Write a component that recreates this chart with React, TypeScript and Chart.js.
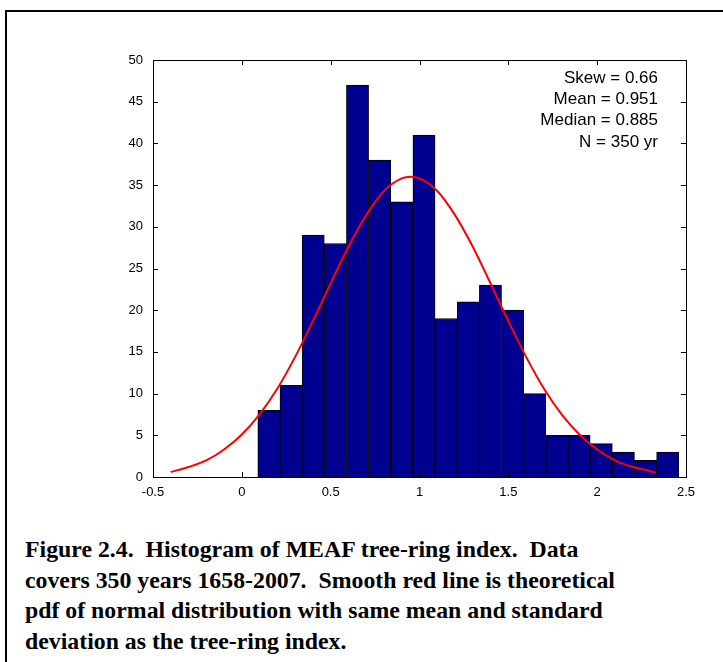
import React, { useEffect, useRef } from 'react';
import { Chart, registerables } from 'chart.js';

Chart.register(...registerables);

const binWidth = 0.1247;
const binStart = 0.09;
const counts = [8, 11, 29, 28, 47, 38, 33, 41, 19, 21, 23, 20, 10, 5, 5, 4, 3, 2, 3];
const pdfX = [-0.4, -0.3, -0.2, -0.1, 0, 0.1, 0.2, 0.3, 0.4, 0.5, 0.6, 0.7, 0.8, 0.9, 0.95, 1.0, 1.1, 1.2, 1.3, 1.4, 1.5, 1.6, 1.7, 1.8, 1.9, 2.0, 2.1, 2.2, 2.3, 2.33];
const pdfY = [0.6, 1.2, 2.0, 3.3, 5.1, 7.5, 10.6, 14.4, 18.7, 23.2, 27.6, 31.4, 34.3, 35.8, 36, 35.8, 34.3, 31.4, 27.6, 23.2, 18.7, 14.4, 10.6, 7.5, 5.1, 3.3, 2.0, 1.2, 0.7, 0.5];
const statLines = ['Skew = 0.66', 'Mean = 0.951', 'Median = 0.885', 'N = 350 yr'];

const inwardTicks = {
    id: 'inwardTicks',
    afterDraw(chart: any) {
        const { ctx, chartArea: a, scales } = chart;
        ctx.save();
        ctx.strokeStyle = '#000';
        ctx.lineWidth = 1;
        ctx.beginPath();
        scales.x.ticks.forEach((t: any) => {
            const px = Math.round(scales.x.getPixelForValue(t.value)) + 0.5;
            ctx.moveTo(px, a.bottom); ctx.lineTo(px, a.bottom - 5);
            ctx.moveTo(px, a.top); ctx.lineTo(px, a.top + 5);
        });
        scales.y.ticks.forEach((t: any) => {
            const py = Math.round(scales.y.getPixelForValue(t.value)) + 0.5;
            ctx.moveTo(a.left, py); ctx.lineTo(a.left + 5, py);
            ctx.moveTo(a.right, py); ctx.lineTo(a.right - 5, py);
        });
        ctx.stroke();
        ctx.strokeRect(a.left + 0.5, a.top + 0.5, a.right - a.left, a.bottom - a.top);
        ctx.fillStyle = '#000';
        ctx.font = '17px "Liberation Sans", Arial, sans-serif';
        ctx.textAlign = 'right';
        ctx.textBaseline = 'middle';
        statLines.forEach((s, i) => ctx.fillText(s, 658, 78 + i * 21.3));
        ctx.restore();
    },
};

const App: React.FC = () => {
    const chartRef = useRef<HTMLCanvasElement | null>(null);

    useEffect(() => {
        if (!chartRef.current) return;
        const ctx = chartRef.current.getContext('2d');
        if (!ctx) return;
        const bars = counts.map((c, i) => ({ x: binStart + binWidth * (i + 0.5), y: c }));
        const curve = pdfX.map((x, i) => ({ x, y: pdfY[i] }));
        const tickFont = { family: '"Liberation Sans", Arial, sans-serif', size: 13 };
        const myChart = new Chart(ctx, {
            type: 'bar',
            data: {
                datasets: [
                    {
                        type: 'line',
                        data: curve,
                        borderColor: '#ff0000',
                        borderWidth: 2,
                        pointRadius: 0,
                        cubicInterpolationMode: 'monotone',
                        order: 0,
                    } as any,
                    {
                        data: bars,
                        backgroundColor: '#000090',
                        borderColor: '#000000',
                        borderWidth: 1,
                        barPercentage: 1,
                        categoryPercentage: 1,
                        order: 1,
                    },
                ],
            },
            options: {
                animation: false,
                responsive: false,
                layout: { padding: { top: 60, right: 37, left: 0, bottom: 0 } },
                plugins: { legend: { display: false }, tooltip: { enabled: false } },
                scales: {
                    x: {
                        type: 'linear',
                        offset: false,
                        min: -0.5,
                        max: 2.5,
                        ticks: {
                            stepSize: 0.5,
                            color: '#000',
                            font: tickFont,
                            padding: 0,
                            maxRotation: 0,
                            callback: (v: any) => String(Number(v)),
                        },
                        grid: { display: false, offset: false },
                        border: { display: false },
                        afterFit: (s: any) => { s.height = 43; },
                    },
                    y: {
                        min: 0,
                        max: 50,
                        ticks: { stepSize: 5, color: '#000', font: tickFont, padding: 2 },
                        grid: { display: false },
                        border: { display: false },
                        afterFit: (s: any) => { s.width = 153; },
                    },
                },
            },
            plugins: [inwardTicks],
        });
        return () => {
            myChart.destroy();
        };
    }, []);

    return (
        <div style={{ position: 'fixed', left: 0, top: 0, width: 723, height: 662, overflow: 'hidden', background: '#fff' }}>
            <div style={{ position: 'absolute', left: 5, top: 10, width: 740, height: 700, border: '2px solid #000', boxSizing: 'border-box' }} />
            <canvas ref={chartRef} width={723} height={520} style={{ position: 'absolute', left: 0, top: 0 }} />
            <div
                style={{
                    position: 'absolute',
                    left: 25,
                    top: 534,
                    width: 700,
                    font: 'bold 23.8px "Liberation Serif", "Times New Roman", serif',
                    lineHeight: '30.5px',
                    color: '#000',
                }}
            >
                Figure 2.4.&nbsp; Histogram of MEAF tree-ring index.&nbsp; Data<br />
                covers 350 years 1658-2007.&nbsp; Smooth red line is theoretical<br />
                pdf of normal distribution with same mean and standard<br />
                deviation as the tree-ring index.
            </div>
        </div>
    );
};

export default App;
